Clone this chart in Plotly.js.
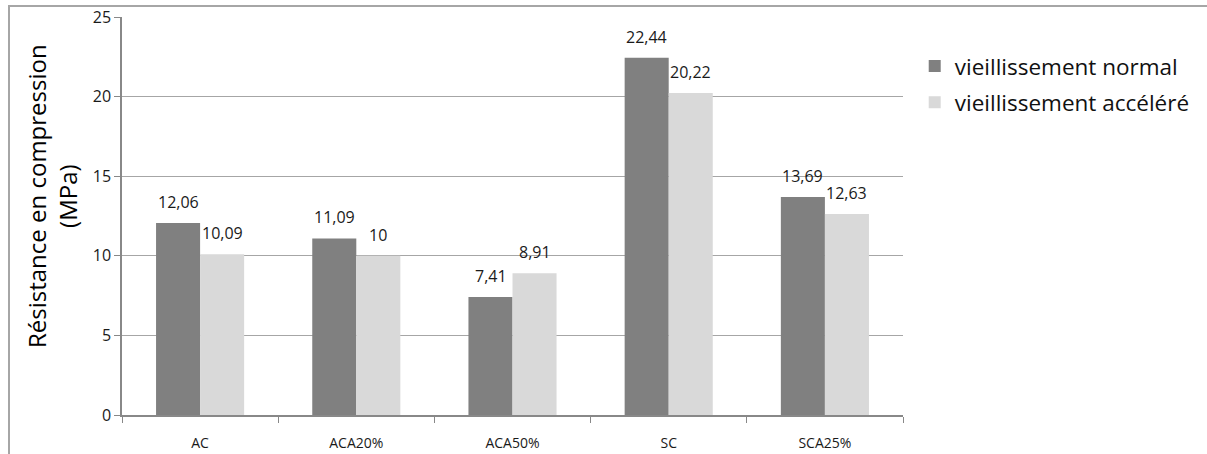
<!DOCTYPE html>
<html><head><meta charset="utf-8">
<script src="https://cdn.plot.ly/plotly-3.0.1.min.js"></script>
<style>html,body{margin:0;padding:0;background:#fff}#chart{width:1207px;height:454px;position:relative}
#frame{position:absolute;left:8px;top:5px;right:0;bottom:0;border-left:2px solid #a6a6a6;border-top:2px solid #a6a6a6;pointer-events:none}</style>
</head><body><div id="chart"></div><div id="frame"></div>
<script>
const categories = ["AC", "ACA20%", "ACA50%", "SC", "SCA25%"];
const normal = [12.06, 11.09, 7.41, 22.44, 13.69];
const accelere = [10.09, 10, 8.91, 20.22, 12.63];
const seriesNames = ["vieillissement normal", "vieillissement accéléré"];
const yTicks = [0, 5, 10, 15, 20, 25];
const yTitle = "Résistance en compression<br>(MPa)";

const fmt = v => String(v).replace('.', ',');
const font = "'Open Sans', sans-serif";
const series = [normal, accelere];
const colors = ['#808080', '#d9d9d9'];

const traces = series.map((vals, i) => ({
  type:'bar', name:seriesNames[i], x:categories, y:vals, marker:{color:colors[i]},
  legendgroup:'g'+i, hoverinfo:'none'
}));

const annotations = [];
series.forEach((vals, i) => vals.forEach((v, j) => annotations.push({
  x:categories[j], y:v, xref:'x', yref:'y', text:fmt(v), showarrow:false,
  xshift:(i === 0 ? -22 : 22), yshift:21, yanchor:'middle',
  font:{size:16, color:'#1a1a1a', family:font}
})));
annotations.push({
  xref:'paper', yref:'paper', x:0, y:0.5, xanchor:'center', yanchor:'middle',
  xshift:-70, yshift:20, textangle:-90, showarrow:false, text:yTitle,
  font:{size:24, color:'#000', family:font}
});

const layout = {
  width:1207, height:454,
  margin:{l:122, r:304, t:17, b:39},
  paper_bgcolor:'#fff', plot_bgcolor:'#fff',
  barmode:'group', bargap:0.436, bargroupgap:0,
  font:{family:font, color:'#222'},
  showlegend:true,
  annotations:annotations,
  legend:{x:1.015, y:0.93, xanchor:'left', yanchor:'top', font:{size:22.5, color:'#111', family:font},
          itemwidth:30, tracegroupgap:4, bgcolor:'rgba(0,0,0,0)'},
  xaxis:{type:'category', tickson:'boundaries', ticks:'outside', ticklen:6, tickcolor:'#888',
         showline:true, linecolor:'#888', linewidth:1.5, showgrid:false, ticklabelstandoff:14,
         tickfont:{size:14, color:'#1a1a1a'}},
  yaxis:{range:[0,25], tickvals:yTicks, ticktext:yTicks.map(String), ticks:'outside', ticklen:6, tickcolor:'#888',
         showline:true, linecolor:'#888', linewidth:1.5, showgrid:true, gridcolor:'#a6a6a6', gridwidth:1,
         zeroline:false, tickfont:{size:16, color:'#1a1a1a'}, ticklabelstandoff:0}
};

Plotly.newPlot('chart', traces, layout, {displayModeBar:false});
</script></body></html>
